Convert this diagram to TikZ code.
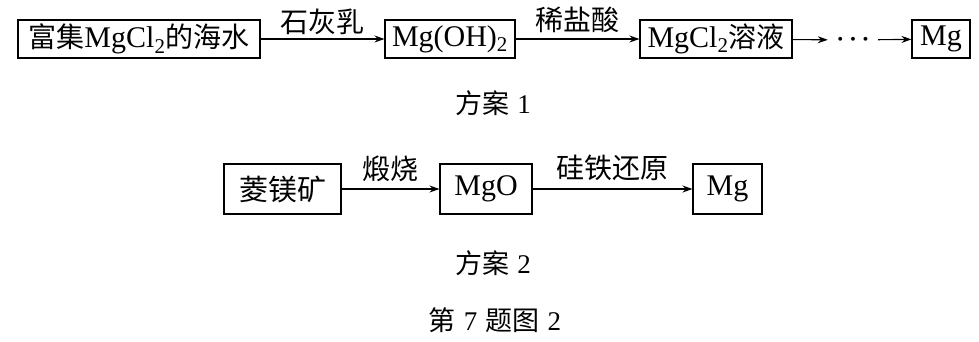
\documentclass[tikz,border=0pt]{standalone}
\usepackage{fontspec}
\setmainfont{Liberation Serif}
\newfontfamily\cjk{Noto Sans CJK SC}
\usetikzlibrary{arrows.meta}
\begin{document}
\begin{tikzpicture}[x=1pt,y=-1pt,
  box/.style={draw, line width=1.1pt, inner sep=0pt, minimum height=38pt, font=\fontsize{30}{34}\selectfont},
  boxtwo/.style={box, minimum height=50pt},
  arr/.style={-{Stealth[length=10pt,width=7pt]}, line width=1.1pt},
  lab/.style={font=\fontsize{28}{31}\selectfont\cjk, inner sep=0pt},
  captxt/.style={font=\fontsize{27}{30}\selectfont, inner sep=0pt}]
\useasboundingbox (0,0) rectangle (979,341);
% row 1
\node[box, minimum width=242pt] (b1) at (139,39) {{\cjk\fontsize{28}{32}\selectfont 富集}MgCl\textsubscript{2}{\cjk\fontsize{28}{32}\selectfont 的海水}};
\node[box, minimum width=130pt] (b2) at (450,39) {Mg(OH)\textsubscript{2}};
\node[box, minimum width=152pt] (b3) at (716,39) {MgCl\textsubscript{2}{\cjk\fontsize{28}{32}\selectfont 溶液}};
\node[inner sep=0pt, minimum width=50pt, font=\fontsize{25}{30}\selectfont\boldmath] (dots) at (853,40) {$\cdots$};
\node[box, minimum width=58pt] (b4) at (941,39) {Mg};
\draw[arr] (b1) -- (b2) node[midway, lab, yshift=17pt] (l1) {石灰乳};
\draw[arr] (b2) -- (b3) node[midway, lab, yshift=19pt] (l2) {稀盐酸};
\draw[arr] (b3) -- (dots);
\draw[arr] (dots) -- (b4);
\node[captxt] (c1) at (493,103) {{\cjk 方案}\hspace{0.3em}1};
% row 2
\node[boxtwo, minimum width=117pt] (n1) at (282.5,189) {\cjk\fontsize{29}{32}\selectfont 菱镁矿};
\node[boxtwo, minimum width=92pt] (n2) at (486,189) {MgO};
\node[boxtwo, minimum width=69pt] (n3) at (727.5,189) {Mg};
\draw[arr] (n1) -- (n2) node[midway, lab, yshift=20pt] (l3) {煅烧};
\draw[arr] (n2) -- (n3) node[midway, lab, yshift=21pt] (l4) {硅铁还原};
\node[captxt] (c2) at (493,263) {{\cjk 方案}\hspace{0.3em}2};
\node[captxt] (c3) at (495,320) {{\cjk 第}\hspace{0.3em}7\hspace{0.3em}{\cjk 题图}\hspace{0.3em}2};
\end{tikzpicture}
\end{document}
